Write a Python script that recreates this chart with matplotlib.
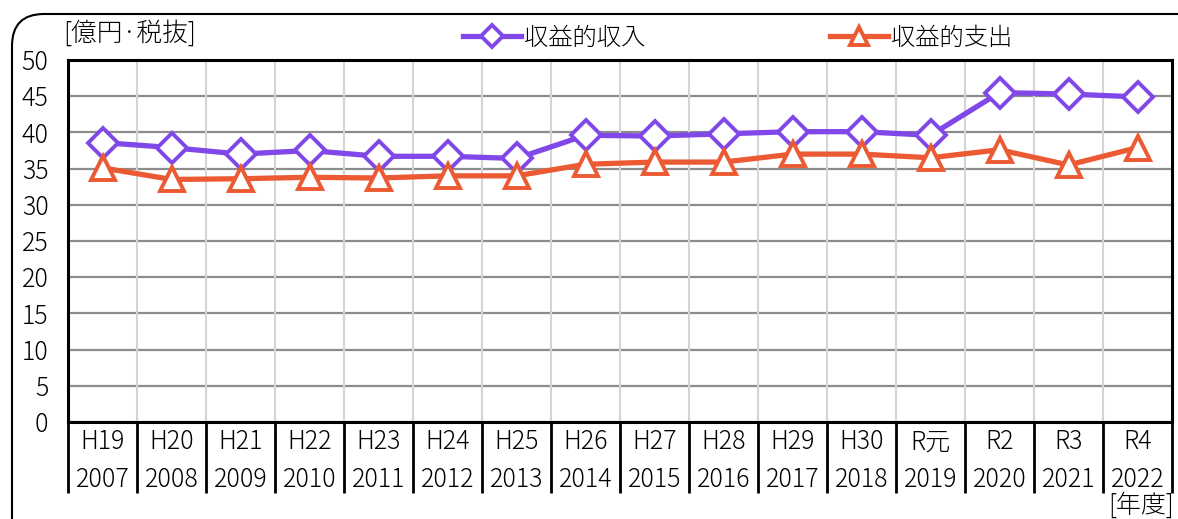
import matplotlib
matplotlib.use("Agg")
import matplotlib.pyplot as plt
import matplotlib.patches as mpatches
import matplotlib.transforms as mtransforms
import numpy as np

plt.rcParams['font.family'] = ['Noto Sans CJK JP', 'DejaVu Sans']
plt.rcParams['font.weight'] = 'light'

# data
era_labels = ["H19", "H20", "H21", "H22", "H23", "H24", "H25", "H26",
              "H27", "H28", "H29", "H30", "R元", "R2", "R3", "R4"]
years = ["2007", "2008", "2009", "2010", "2011", "2012", "2013", "2014",
         "2015", "2016", "2017", "2018", "2019", "2020", "2021", "2022"]
income = [38.6, 37.9, 37.0, 37.5, 36.7, 36.7, 36.4, 39.6,
          39.5, 39.8, 40.1, 40.1, 39.6, 45.5, 45.3, 44.9]
expense = [35.1, 33.5, 33.6, 33.8, 33.7, 34.0, 34.0, 35.6,
           35.9, 35.9, 37.0, 37.0, 36.5, 37.6, 35.5, 37.9]

W, H = 1178, 519
fig = plt.figure(figsize=(W / 100, H / 100), dpi=100)
ax = fig.add_axes([68 / W, 1 - 422 / H, (1172 - 68) / W, (422 - 60) / H])

purple = "#8048e8"
orange = "#eb5a32"
x = np.arange(len(years))

l1, = ax.plot(x, income, color=purple, lw=3.8, marker="D", ms=15,
              mfc="white", mec=purple, mew=2.8, zorder=4, clip_on=False)
l2, = ax.plot(x, expense, color=orange, lw=3.8, marker="^", ms=17,
              mfc="white", mec=orange, mew=2.8, zorder=4, clip_on=False)

ax.set_xlim(-0.5, len(years) - 0.5)
ax.set_ylim(0, 50)
ax.set_yticks(np.arange(0, 51, 5))
ax.yaxis.grid(True, color="#8c8c8c", lw=1.6)
ax.tick_params(axis="y", length=0, pad=14, labelsize=18)

# category separators as major ticks, labels on minor ticks
ax.set_xticks(np.arange(len(years) + 1) - 0.5)
ax.set_xticklabels([])
ax.tick_params(axis="x", which="major", length=51, width=2, direction="out", color="black")
ax.set_xticks(x, minor=True)
ax.set_xticklabels([f"{e}\n{y}" for e, y in zip(era_labels, years)], minor=True,
                   linespacing=1.55)
ax.tick_params(axis="x", which="minor", length=0, pad=5, labelsize=18)
for gx in np.arange(1, len(years)) - 0.5:
    ax.axvline(gx, color="#d4d4d4", lw=1.5, zorder=1)
ax.set_axisbelow(True)

for side in ["left", "bottom", "top", "right"]:
    ax.spines[side].set_linewidth(2.2)
    ax.spines[side].set_color("black")

fig.text(63 / W, 1 - 33 / H, "[億円·税抜]", fontsize=18.5, va="center", ha="left")
fig.text(1174 / W, 1 - 505 / H, "[年度]", fontsize=18, va="center", ha="right")

fig.legend([l1, l2], ["収益的収入", "収益的支出"], loc="center left",
           bbox_to_anchor=(463 / W, 1 - 38 / H), ncol=2, frameon=False,
           fontsize=17.5, handlelength=2.4, handletextpad=0.1,
           columnspacing=7.6, borderpad=0, borderaxespad=0, markerscale=0.75,
           numpoints=1)

box = mpatches.FancyBboxPatch((12, -40), 1250, H - 14 + 40,
                              boxstyle="round,pad=0,rounding_size=32",
                              transform=mtransforms.IdentityTransform(),
                              fill=False, ec="black", lw=1.5)
fig.patches.append(box)

fig.savefig("out.png", dpi=100)
